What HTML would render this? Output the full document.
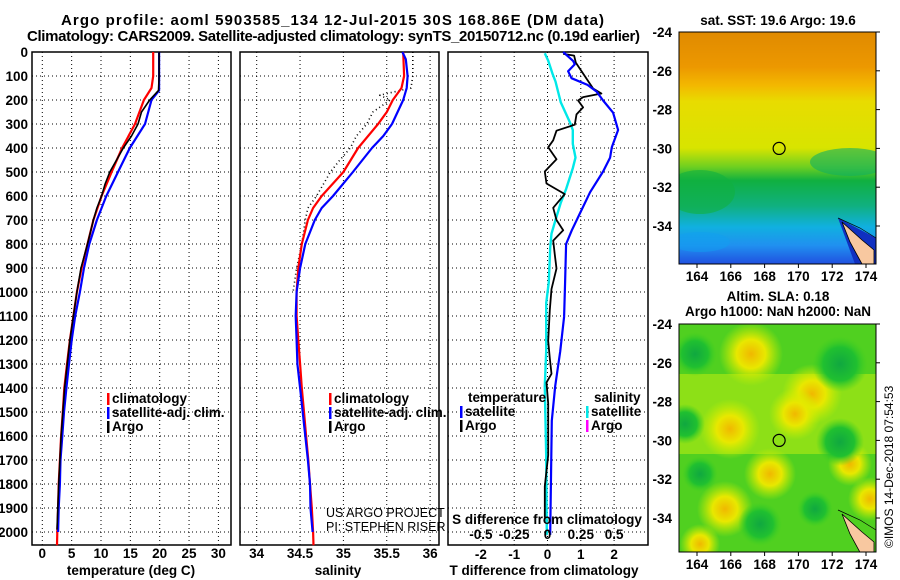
<!DOCTYPE html>
<html><head><meta charset="utf-8">
<style>
html,body{margin:0;padding:0;background:#fff;}
svg{display:block;font-family:"Liberation Sans",Arial,sans-serif;}
.b{font-weight:bold;font-size:13.5px;fill:#000;}
.t{font-weight:bold;font-size:15px;fill:#000;}
.g{stroke:#000;stroke-width:1;stroke-dasharray:1,3;}
</style></head>
<body>
<svg id="c" width="900" height="580" viewBox="0 0 900 580">
<defs>
<linearGradient id="sst" x1="0" y1="0" x2="0" y2="1">
<stop offset="0" stop-color="#e08a00"/><stop offset="0.15" stop-color="#ec9800"/>
<stop offset="0.23" stop-color="#f3b800"/><stop offset="0.3" stop-color="#e8dc00"/>
<stop offset="0.5" stop-color="#d8e400"/><stop offset="0.58" stop-color="#70d020"/>
<stop offset="0.64" stop-color="#10b040"/><stop offset="0.75" stop-color="#10b080"/>
<stop offset="0.84" stop-color="#10b0e0"/><stop offset="0.92" stop-color="#2090f0"/>
<stop offset="1" stop-color="#2050e0"/></linearGradient>
<radialGradient id="yb"><stop offset="0" stop-color="#f0b800"/><stop offset="0.45" stop-color="#e8e800"/><stop offset="1" stop-color="#c8f000" stop-opacity="0"/></radialGradient>
<radialGradient id="gb"><stop offset="0" stop-color="#10a840"/><stop offset="0.6" stop-color="#20c030"/><stop offset="1" stop-color="#40d020" stop-opacity="0"/></radialGradient>
<clipPath id="c1"><rect x="679" y="32" width="197" height="232"/></clipPath>
<clipPath id="c2"><rect x="679" y="324" width="197" height="228"/></clipPath>
</defs>
<g id="root"></g>
</svg>
<script>
// ---- data ----
const depthTicks = [0,100,200,300,400,500,600,700,800,900,1000,1100,1200,1300,1400,1500,1600,1700,1800,1900,2000];
const tempTicks = [0,5,10,15,20,25,30];
const salTicks = [34,34.5,35,35.5,36];
const salTickLabels = ["34","34.5","35","35.5","36"];
const tdTicks = [-2,-1,0,1,2];
const sdTickLabels = ["-0.5","-0.25","0","0.25","0.5"];
const sdTicks = [-0.5,-0.25,0,0.25,0.5];

const tClimDepth = [0,100,150,200,300,400,500,600,700,800,900,1000,1100,1200,1300,1400,1500,1600,1700,1800,1900,2000,2055];
const tClim = [18.9,18.9,18.6,17.3,15.8,13.6,11.8,10.1,8.7,7.7,6.7,5.9,5.3,4.7,4.2,3.75,3.5,3.2,3.0,2.8,2.7,2.55,2.5];
const tSatDepth = [0,100,160,200,300,400,500,600,700,800,900,1000,1100,1200,1300,1400,1500,1600,1700,1800,1900,2000];
const tSat = [19.9,19.9,19.9,18.6,17.5,14.9,12.9,10.9,9.3,8.0,7.1,6.4,5.6,5.0,4.55,4.1,3.7,3.4,3.1,3.0,2.8,2.7];
const tArgoDepth = [0,100,160,200,250,300,350,400,500,550,600,650,700,800,900,1000,1200,1400,1600,1800,1990];
const tArgo = [19.9,19.9,19.8,18.3,16.9,16.3,15.2,13.8,11.5,10.7,10.1,9.3,8.7,7.7,6.6,5.9,4.7,3.8,3.2,2.8,2.5];

const sClimDepth = [0,100,150,200,250,300,400,500,600,650,700,800,900,1000,1100,1200,1300,1400,1500,1600,1700,1800,1900,2000,2055];
const sClim = [35.69,35.70,35.67,35.57,35.50,35.40,35.17,35.0,34.75,34.65,34.59,34.52,34.48,34.46,34.46,34.48,34.50,34.52,34.545,34.57,34.595,34.615,34.635,34.65,34.655];
const sSatDepth = [0,30,100,150,200,300,350,400,500,600,650,700,800,900,1000,1100,1200,1300,1400,1500,1600,1700,1800,1900,2000];
const sSat = [35.68,35.72,35.74,35.73,35.69,35.56,35.46,35.33,35.11,34.88,34.75,34.67,34.56,34.50,34.46,34.45,34.46,34.47,34.50,34.53,34.56,34.59,34.615,34.62,34.645];
const sArgoDepth = [0,100,150,180,200,250,300,350,400,450,500,550,600,650,700,800,900,1000];
const sArgo = [35.8,35.8,35.78,35.42,35.54,35.34,35.27,35.15,35.08,34.96,34.85,34.77,34.69,34.59,34.56,34.52,34.46,34.42];

const dTSatDepth = [0,37,51,80,109,137,166,202,253,325,397,440,498,584,671,743,800,959,1103,1248,1392,1536,2012];
const dTSat = [0.47,0.77,0.82,0.62,0.72,1.2,1.48,1.67,1.97,2.12,1.93,1.88,1.67,1.28,0.98,0.73,0.56,0.53,0.5,0.38,0.23,0.13,0.08];
const dTArgoDepth = [8,15,44,152,173,188,202,231,260,303,328,368,397,447,498,548,592,649,700,743,786,844,902,988,1075,1204,1276,1341,1377,1464,1680,1810,1940];
const dTArgo = [0.47,0.8,0.85,1.37,1.62,1.07,0.92,1.07,0.87,0.82,0.27,0.17,0.02,0.27,-0.08,-0.03,0.52,0.17,0.27,0.47,0.17,0.22,0.27,0.12,0.07,0.02,0.07,0.12,-0.03,0.02,0.02,-0.08,-0.08];
const dSSatDepth = [5,37,94,123,210,296,325,383,440,484,570,628,700,757,815,959,1046,1248,1392,1680,2012];
const dSSat = [-0.02,0.006,0.04,0.06,0.10,0.17,0.19,0.19,0.21,0.19,0.14,0.10,0.06,0.03,0.02,0.01,-0.01,-0.01,-0.02,-0.01,-0.005];

const lonTicks = [164,166,168,170,172,174];
const latTicks = [-24,-26,-28,-30,-32,-34];
const argoLon = 168.86, argoLat = -30;

// ---- helpers ----
const NS="http://www.w3.org/2000/svg";
const root=document.getElementById('root');
function el(tag,attrs,parent){const e=document.createElementNS(NS,tag);for(const k in attrs)e.setAttribute(k,attrs[k]);(parent||root).appendChild(e);return e;}
function txt(x,y,s,cls,anchor,parent){const e=el('text',{x:x,y:y,class:cls||'b','text-anchor':anchor||'start'},parent);e.textContent=s;return e;}

const TOP=52, BOT=545;
const yD = d => TOP + d*0.24;
const xT = v => 42.3 + v*5.87;
const xS = v => 256.7 + (v-34)*86.7;
const xTD = v => 547.5 + v*33.3;
const xSD = v => 547.5 + v*133.3;

function panel(x0,x1,name,xs,ticks){
  const g=el('g',{});
  
  
  for(const d of depthTicks){ if(d===0)continue; el('line',{x1:x0,x2:x1,y1:yD(d),y2:yD(d),class:'g'},g);}
  for(const t of ticks){ el('line',{x1:xs(t),x2:xs(t),y1:TOP,y2:BOT,class:'g'},g);}
  const r=el('rect',{x:x0,y:TOP,width:x1-x0,height:BOT-TOP,fill:'none',stroke:'#000','stroke-width':1.5},g);
  
  
  return g;
}
function line(xs,vals,depths,color,name,w,dash,parent){
  const pts=vals.map((v,i)=>xs(v).toFixed(1)+','+yD(depths[i]).toFixed(1)).join(' ');
  const p=el('polyline',{points:pts,fill:'none',stroke:color,'stroke-width':w||2.2,'stroke-linejoin':'round'},parent);
  if(dash)p.setAttribute('stroke-dasharray',dash);
  
  
  return p;
}
function legendEntry(x,y,color,label,name){
  const g=el('g',{});
  
  
  el('rect',{x:x,y:y-10,width:2.5,height:12,fill:color},g);
  txt(x+5,y,label,'b','start',g);
}

// titles
let t1=txt(61,25,'Argo profile: aoml 5903585_134 12-Jul-2015 30S 168.86E (DM data)','t','start');
t1.setAttribute('textLength','543');


let t2=txt(27,41,'Climatology: CARS2009. Satellite-adjusted climatology: synTS_20150712.nc (0.19d earlier)','t','start');
t2.setAttribute('textLength','613');



// y-axis labels
for(const d of depthTicks){const e=txt(28,yD(d)+5,String(d),'b','end');
  
  }

// panel 1 temperature
const p1=panel(32,231,'temperature-panel',xT,tempTicks);
line(xT,tClim,tClimDepth,'#ff0000','temp-climatology-line',2.2,null,p1);
line(xT,tSat,tSatDepth,'#0000ff','temp-satellite-line',2.2,null,p1);
line(xT,tArgo,tArgoDepth,'#000000','temp-argo-line',1.6,null,p1);
for(const t of tempTicks){const e=txt(xT(t),558,String(t),'b','middle');
  
  }
let xa=txt(131,575,'temperature (deg C)','b','middle');


legendEntry(107,403,'#ff0000','climatology','legend-climatology');
legendEntry(107,417,'#0000ff','satellite-adj. clim.','legend-satellite');
legendEntry(107,431,'#000000','Argo','legend-argo');

// panel 2 salinity
const p2=panel(240,439,'salinity-panel',xS,salTicks);
line(xS,sArgo,sArgoDepth,'#000000','sal-argo-line',1.6,'1,3',p2);
line(xS,sClim,sClimDepth,'#ff0000','sal-climatology-line',2.2,null,p2);
line(xS,sSat,sSatDepth,'#0000ff','sal-satellite-line',2.2,null,p2);
salTicks.forEach((t,i)=>{const e=txt(xS(t),558,salTickLabels[i],'b','middle');
  
  });
let xb=txt(338,575,'salinity','b','middle');


legendEntry(329,403,'#ff0000','climatology','legend-climatology-2');
legendEntry(329,417,'#0000ff','satellite-adj. clim.','legend-satellite-2');
legendEntry(329,431,'#000000','Argo','legend-argo-2');
let c1=el('text',{x:326,y:517,'font-size':'12.5px',fill:'#000'});c1.textContent='US ARGO PROJECT';


let c2=el('text',{x:326,y:531,'font-size':'12.5px',fill:'#000'});c2.textContent='PI: STEPHEN RISER';



// panel 3 differences
const p3=panel(448,648,'difference-panel',xTD,tdTicks);
line(xSD,dSSat,dSSatDepth,'#00e8e8','sal-diff-satellite-line',2.4,null,p3);
line(xTD,dTArgo,dTArgoDepth,'#000000','temp-diff-argo-line',1.8,null,p3);
line(xTD,dTSat,dTSatDepth,'#0000ff','temp-diff-satellite-line',2.2,null,p3);
let h1=txt(468,402,'temperature');
legendEntry(460,416,'#0000ff','satellite','legend-temp-satellite');
legendEntry(460,430,'#000000','Argo','legend-temp-argo');
let h2=txt(594,402,'salinity');
legendEntry(586,416,'#00e8e8','satellite','legend-sal-satellite');
legendEntry(586,430,'#ff00ff','Argo','legend-sal-argo');
let sd=txt(547,524,'S difference from climatology','b','middle');


sdTicks.forEach((t,i)=>{const e=txt(xSD(t),539,sdTickLabels[i],'b','middle');
  
  });
tdTicks.forEach(t=>{const e=txt(xTD(t),559,String(t),'b','middle');
  
  });
let td=txt(544,575,'T difference from climatology','b','middle');



// maps
const xL = lon => 697 + (lon-164)*16.9;
function map(y0,h,clip,name,isSst){
  const yL = lat => y0 + (-24-lat)*19.4;
  const g=el('g',{});
  
  
  const gi=el('g',{'clip-path':'url(#'+clip+')'},g);
  if(isSst){
    el('rect',{x:679,y:y0,width:197,height:h,fill:'url(#sst)'},gi);
    el('ellipse',{cx:700,cy:y0+160,rx:35,ry:22,fill:'#10b040',opacity:0.6},gi);
    el('ellipse',{cx:850,cy:y0+130,rx:40,ry:14,fill:'#10b060',opacity:0.6},gi);
    el('ellipse',{cx:700,cy:y0+210,rx:30,ry:10,fill:'#10a0f0',opacity:0.5},gi);
    el('polygon',{points:'838,'+(y0+186)+' 876,'+(y0+206)+' 876,'+(y0+232)+' 855,'+(y0+232),fill:'#1030c0'},gi);
  }else{
    el('rect',{x:679,y:y0,width:197,height:h,fill:'#50d020'},gi);
    el('rect',{x:679,y:y0+50,width:197,height:80,fill:'#c0ec10',opacity:0.55},gi);
    [[751,y0+30,32],[812,y0+70,30],[795,y0+90,26],[730,y0+105,30],[725,y0+185,28],[770,y0+150,26],[850,y0+140,22],[870,y0+175,22],[700,y0+220,20]].forEach(b=>el('circle',{cx:b[0],cy:b[1],r:b[2],fill:'url(#yb)'},gi));
    [[840,y0+40,28],[695,y0+30,22],[685,y0+100,20],[760,y0+200,22],[840,y0+118,24],[700,y0+150,18],[815,y0+185,18]].forEach(b=>el('circle',{cx:b[0],cy:b[1],r:b[2],fill:'url(#gb)'},gi));
  }
  el('polygon',{points:'842,'+(y0+190)+' 862,'+(y0+208)+' 874,'+(y0+218)+' 874,'+(y0+232)+' 862,'+(y0+232)+' 850,'+(y0+210),fill:'#f8c8a0',stroke:'#000','stroke-width':0.8},gi);
  el('polyline',{points:'838,'+(y0+186)+' 860,'+(y0+196)+' 876,'+(y0+206),fill:'none',stroke:'#000','stroke-width':0.7},gi);
  const ring=el('circle',{cx:xL(argoLon),cy:yL(argoLat),r:6,fill:'none',stroke:'#000','stroke-width':1.2},g);
  
  
  el('rect',{x:679,y:y0,width:197,height:h,fill:'none',stroke:'#000','stroke-width':1},g);
  for(const lat of latTicks){
    el('line',{x1:876,x2:880,y1:yL(lat),y2:yL(lat),stroke:'#000'},g);
    const e=txt(672,yL(lat)+5,String(lat),'b','end',g);
    
    
  }
  for(const lon of lonTicks){
    el('line',{x1:xL(lon),x2:xL(lon),y1:y0+h,y2:y0+h+4,stroke:'#000'},g);
    const e=txt(xL(lon),y0+h+17,String(lon),'b','middle',g);
    
    
  }
}
map(32,232,'c1','sst-map',true);
map(324,228,'c2','sla-map',false);
let m1=txt(778,25,'sat. SST: 19.6 Argo: 19.6','b','middle');
let m2=txt(778,301,'Altim. SLA: 0.18','b','middle');
let m3=txt(778,316,'Argo h1000: NaN h2000: NaN','b','middle');
let cp=el('text',{x:0,y:0,'font-size':'12px',fill:'#000',transform:'translate(893,548) rotate(-90)'});
cp.textContent='©IMOS 14-Dec-2018 07:54:53';


</script>
</body></html>
